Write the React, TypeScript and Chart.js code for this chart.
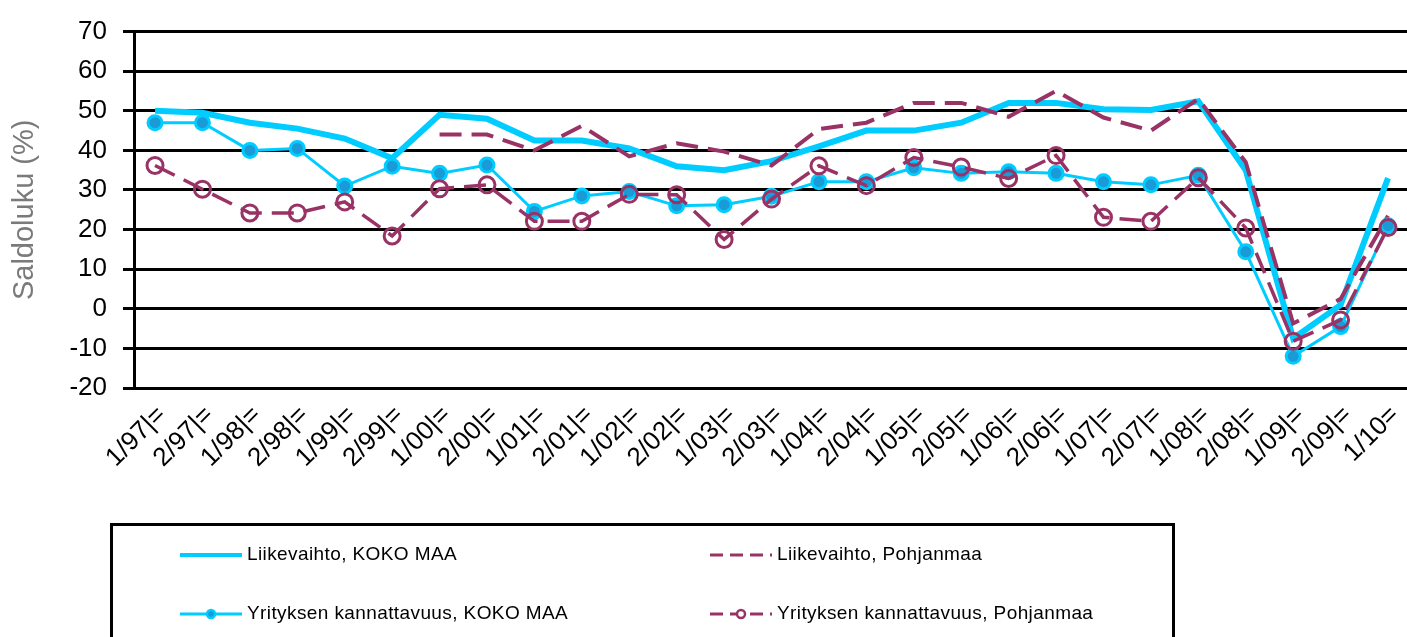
import React, { useEffect, useRef } from 'react';
import { Chart, registerables } from 'chart.js';

Chart.register(...registerables);

const categories = [
  '1/97|=', '2/97|=', '1/98|=', '2/98|=', '1/99|=', '2/99|=', '1/00|=', '2/00|=', '1/01|=',
  '2/01|=', '1/02|=', '2/02|=', '1/03|=', '2/03|=', '1/04|=', '2/04|=', '1/05|=', '2/05|=',
  '1/06|=', '2/06|=', '1/07|=', '2/07|=', '1/08|=', '2/08|=', '1/09|=', '2/09|=', '1/10=',
];

const liikevaihtoKoko = [50, 49.5, 47, 45.5, 43, 38, 49, 48, 42.5, 42.5, 40.5, 36, 35, 37.3, 41, 45, 45, 47, 52, 52, 50.4, 50.2, 52.4, 35, -7.5, 1, 33];
const liikevaihtoPohj = [null, null, null, null, null, null, 44, 44, 40, 46.2, 38.5, 41.8, 39.7, 36.2, 45.4, 47, 52, 52, 48.5, 55, 48.3, 45, 53, 37, -3.7, 2.5, 23.5];
const kannattavuusKoko = [47, 47, 40, 40.5, 31, 36, 34.2, 36.3, 24.6, 28.5, 29.6, 26, 26.3, 28.4, 32.1, 32.1, 35.6, 34.2, 34.6, 34.2, 32.1, 31.3, 33.7, 14.4, -12, -4.5, 21];
const kannattavuusPohj = [36.2, 30.2, 24.2, 24.2, 27, 18.4, 30.3, 31.3, 22.1, 22.1, 28.9, 28.8, 17.5, 27.7, 36.1, 31.1, 38.2, 35.8, 32.9, 38.7, 23.1, 22.1, 33.1, 20.4, -8.2, -2.8, 20.5];

const seriesLabels = [
  'Liikevaihto, KOKO MAA',
  'Liikevaihto, Pohjanmaa',
  'Yrityksen kannattavuus, KOKO MAA',
  'Yrityksen kannattavuus, Pohjanmaa',
];

const yTicks = [-20, -10, 0, 10, 20, 30, 40, 50, 60, 70];

const CYAN = '#00CCFF';
const MAROON = '#993366';
const MARKER_BLUE = '#1A9AD6';
const FONT = '"Liberation Sans", Arial, sans-serif';

export default function App() {
  const ref = useRef<HTMLCanvasElement>(null);

  useEffect(() => {
    if (!ref.current) return;
    const toXY = (arr: (number | null)[]) => arr.map((v, i) => ({ x: i, y: v }));

    const legendPlugin = {
      id: 'boxLegend',
      afterDraw(chart: any) {
        const ctx = chart.ctx as CanvasRenderingContext2D;
        ctx.save();
        ctx.strokeStyle = '#000';
        ctx.lineWidth = 3;
        ctx.setLineDash([]);
        ctx.strokeRect(111.5, 524.5, 1062, 140);
        const pos = [[180, 555], [710, 555], [180, 614], [710, 614]];
        chart.data.datasets.forEach((ds: any, i: number) => {
          const [x, y] = pos[i];
          const w = 62;
          ctx.beginPath();
          ctx.strokeStyle = ds.borderColor;
          ctx.lineWidth = i === 0 ? 4 : 3;
          ctx.setLineDash(ds.borderDash ? [13, 7] : []);
          ctx.moveTo(x, y);
          ctx.lineTo(x + w, y);
          ctx.stroke();
          ctx.setLineDash([]);
          if (ds.pointRadius > 0) {
            ctx.beginPath();
            ctx.arc(x + w / 2, y, 4, 0, Math.PI * 2);
            ctx.fillStyle = ds.pointBackgroundColor === 'transparent' ? '#fff' : ds.pointBackgroundColor;
            ctx.fill();
            ctx.lineWidth = 2.5;
            ctx.strokeStyle = ds.pointBorderColor;
            ctx.stroke();
          }
          ctx.fillStyle = '#000';
          ctx.font = `19px ${FONT}`;
          (ctx as any).letterSpacing = '0.4px';
          ctx.textBaseline = 'middle';
          ctx.textAlign = 'left';
          ctx.fillText(ds.label, x + w + 5, y);
          (ctx as any).letterSpacing = '0px';
        });
        ctx.restore();
      },
    };

    const chart = new Chart(ref.current, {
      type: 'line',
      data: {
        datasets: [
          {
            label: seriesLabels[0],
            data: toXY(liikevaihtoKoko),
            borderColor: CYAN,
            borderWidth: 6,
            pointRadius: 0,
            tension: 0,
            order: 4,
          },
          {
            label: seriesLabels[1],
            data: toXY(liikevaihtoPohj),
            borderColor: MAROON,
            borderWidth: 4,
            borderDash: [22, 10],
            pointRadius: 0,
            tension: 0,
            order: 3,
          },
          {
            label: seriesLabels[2],
            data: toXY(kannattavuusKoko),
            borderColor: CYAN,
            borderWidth: 3,
            pointRadius: 7,
            pointBorderWidth: 3,
            pointBackgroundColor: MARKER_BLUE,
            pointBorderColor: CYAN,
            tension: 0,
            order: 2,
          },
          {
            label: seriesLabels[3],
            data: toXY(kannattavuusPohj),
            borderColor: MAROON,
            borderWidth: 3.5,
            borderDash: [22, 10],
            pointRadius: 8,
            pointBorderWidth: 3,
            pointBackgroundColor: 'transparent',
            pointBorderColor: MAROON,
            tension: 0,
            order: 1,
          },
        ] as any,
      },
      options: {
        animation: false,
        responsive: false,
        layout: { autoPadding: false, padding: { top: 27, right: 0, left: 0, bottom: 0 } },
        plugins: {
          legend: { display: false },
          tooltip: { enabled: false },
        },
        scales: {
          x: {
            type: 'linear',
            min: -0.443,
            max: 26.4,
            afterFit: (s: any) => { s.height = 249; s.paddingRight = 0; s.paddingLeft = 0; },
            grid: { display: false, drawTicks: false },
            border: { display: false },
            ticks: {
              stepSize: 1,
              autoSkip: false,
              includeBounds: false,
              minRotation: 45,
              maxRotation: 45,
              padding: 12,
              labelOffset: 7,
              color: '#000',
              font: { family: FONT, size: 26 },
              callback: (v: any) => (Number.isInteger(v) && categories[v] !== undefined ? categories[v] : ''),
            },
          },
          y: {
            min: yTicks[0],
            max: yTicks[yTicks.length - 1],
            afterFit: (s: any) => { s.width = 134; },
            afterBuildTicks: (s: any) => { s.ticks = yTicks.map((v) => ({ value: v })); },
            ticks: {
              stepSize: 10,
              padding: 16,
              color: '#000',
              font: { family: FONT, size: 26 },
            },
            grid: { color: '#000', lineWidth: 3, tickLength: 11, drawTicks: true },
            border: { color: '#000', width: 3 },
            title: {
              display: true,
              text: 'Saldoluku (%)',
              color: '#7a7a7a',
              font: { family: FONT, size: 29 },
              padding: { top: 8, bottom: 0 },
            },
          },
        },
      } as any,
      plugins: [legendPlugin],
    });
    return () => chart.destroy();
  }, []);

  return (
    <div style={{ position: 'absolute', left: 0, top: 0, width: 1407, height: 637, background: '#fff' }}>
      <canvas ref={ref} width={1407} height={637} />
    </div>
  );
}
